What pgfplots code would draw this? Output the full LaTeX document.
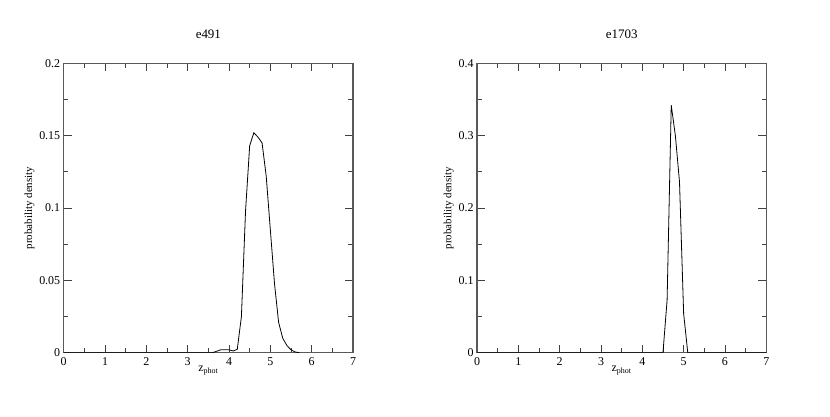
\documentclass[border=0pt]{standalone}
\usepackage{fontspec}
\setmainfont{Liberation Serif}
\usepackage{pgfplots}
\pgfplotsset{compat=1.18}
\pgfplotsset{
  pdfstyle/.style={
    scale only axis, width=289.3bp, height=289.4bp,
    xmin=0, xmax=7, xtick={0,1,...,7}, minor x tick num=1,
    tick align=inside, major tick length=8bp, minor tick length=4.5bp,
    axis line style={black!65, line width=1.1bp},
    every tick/.style={black!75, line width=0.9bp},
    tick label style={font=\fontsize{12}{14}\selectfont},
    /pgf/number format/assume math mode=true,
    xtick pos=both, ytick pos=both,
    xticklabel style={yshift=-1bp},
    title style={font=\fontsize{13}{15}\selectfont, at={(axis description cs:0.5,1)}, anchor=south, yshift=15bp},
    xlabel={z\textsubscript{phot}},
    xlabel style={font=\fontsize{12}{14}\selectfont, yshift=6bp},
    ylabel={probability density},
    ylabel style={font=\fontsize{11}{13}\selectfont, yshift=-2bp},
  }
}
\begin{document}
\begin{tikzpicture}
\useasboundingbox (0,0) rectangle (830bp,417bp);
\begin{axis}[pdfstyle, at={(63.7bp,64.3bp)}, anchor=south west,
  title={e491},
  ymin=0, ymax=0.2, ytick={0,0.05,0.1,0.15,0.2},
  yticklabels={0,0.05,0.1,0.15,0.2}, minor y tick num=1]
\addplot[black, line width=0.8bp] coordinates {
(0,0) (3.6,0) (3.7,0.001) (3.8,0.002) (3.9,0.002) (4.0,0.002) (4.1,0.0012) (4.2,0.0023)
(4.3,0.025) (4.4,0.098) (4.5,0.143) (4.6,0.152) (4.7,0.149) (4.8,0.145) (4.9,0.122)
(5.0,0.085) (5.1,0.048) (5.2,0.021) (5.3,0.010) (5.4,0.005) (5.5,0.002) (5.6,0.0005) (5.7,0)
};
\end{axis}
\begin{axis}[pdfstyle, at={(477bp,64.3bp)}, anchor=south west,
  title={e1703},
  ymin=0, ymax=0.4, ytick={0,0.1,0.2,0.3,0.4},
  yticklabels={0,0.1,0.2,0.3,0.4}, minor y tick num=1]
\addplot[black, line width=0.8bp] coordinates {
(0,0) (4.5,0) (4.6,0.073) (4.7,0.342) (4.8,0.300) (4.9,0.236) (5.0,0.054) (5.1,0) (7,0)
};
\end{axis}
\end{tikzpicture}
\end{document}
